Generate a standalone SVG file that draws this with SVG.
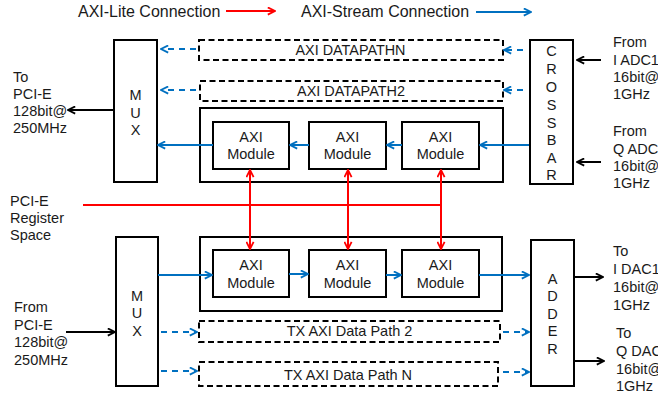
<svg xmlns="http://www.w3.org/2000/svg" width="658" height="398" viewBox="0 0 658 398">
<style>
text{font-family:"Liberation Sans",Arial,sans-serif;fill:#1a1a1a}
.lg{font-size:16px}
.lb{font-size:14.5px}
.ct{text-anchor:middle}
.box{fill:#fff;stroke:#000;stroke-width:2}
.dbox{fill:none;stroke:#000;stroke-width:2;stroke-dasharray:6,3.5}
.blue{stroke:#0070C0;stroke-width:2;fill:none}
.bdash{stroke:#0070C0;stroke-width:2;fill:none;stroke-dasharray:6,5}
.red{stroke:#FF0000;stroke-width:2;fill:none}
.blk{stroke:#000;stroke-width:2;fill:none}
</style>
<defs>
<marker id="hb" viewBox="0 0 10 10" refX="9" refY="5" markerWidth="9" markerHeight="9" markerUnits="userSpaceOnUse" orient="auto-start-reverse"><path d="M1,1 L9,5 L1,9" fill="none" stroke="#0070C0" stroke-width="2"/></marker>
<marker id="hr" viewBox="0 0 10 10" refX="9" refY="5" markerWidth="9" markerHeight="9" markerUnits="userSpaceOnUse" orient="auto-start-reverse"><path d="M1,1 L9,5 L1,9" fill="none" stroke="#FF0000" stroke-width="2"/></marker>
<marker id="hk" viewBox="0 0 10 10" refX="9" refY="5" markerWidth="9" markerHeight="9" markerUnits="userSpaceOnUse" orient="auto-start-reverse"><path d="M1,1 L9,5 L1,9" fill="none" stroke="#000" stroke-width="2"/></marker>
</defs>

<g id="legend">
<text class="lg" x="78" y="17">AXI-Lite Connection</text>
<text class="lg" x="301" y="17">AXI-Stream Connection</text>
<line class="red" x1="226" y1="11" x2="275" y2="11" marker-end="url(#hr)"/>
<line class="blue" x1="476" y1="12" x2="531" y2="12" marker-end="url(#hb)"/>
</g>

<g id="label-to-pcie">
<text class="lb" x="13" y="82">To</text>
<text class="lb" x="13" y="99">PCI-E</text>
<text class="lb" x="13" y="116">128bit@</text>
<text class="lb" x="13" y="133">250MHz</text>
</g>
<g id="label-register">
<text class="lb" x="10" y="206">PCI-E</text>
<text class="lb" x="10" y="223">Register</text>
<text class="lb" x="10" y="240">Space</text>
</g>
<g id="label-from-pcie">
<text class="lb" x="14" y="312">From</text>
<text class="lb" x="14" y="329.5">PCI-E</text>
<text class="lb" x="14" y="347">128bit@</text>
<text class="lb" x="14" y="364.5">250MHz</text>
</g>
<g id="label-iadc">
<text class="lb" x="613" y="47">From</text>
<text class="lb" x="613" y="64.5">I ADC1</text>
<text class="lb" x="613" y="82">16bit@</text>
<text class="lb" x="613" y="99">1GHz</text>
</g>
<g id="label-qadc">
<text class="lb" x="613" y="136">From</text>
<text class="lb" x="613" y="153.5">Q ADC1</text>
<text class="lb" x="613" y="171">16bit@</text>
<text class="lb" x="613" y="188">1GHz</text>
</g>
<g id="label-idac">
<text class="lb" x="613" y="256">To</text>
<text class="lb" x="613" y="274">I DAC1</text>
<text class="lb" x="613" y="292">16bit@</text>
<text class="lb" x="613" y="310">1GHz</text>
</g>
<g id="label-qdac">
<text class="lb" x="616" y="338">To</text>
<text class="lb" x="616" y="356">Q DAC1</text>
<text class="lb" x="616" y="374">16bit@</text>
<text class="lb" x="616" y="391">1GHz</text>
</g>

<g id="mux-top">
<rect class="box" x="114" y="40" width="43" height="142"/>
<text class="lb ct" x="135.5" y="100">M</text>
<text class="lb ct" x="135.5" y="118">U</text>
<text class="lb ct" x="135.5" y="135">X</text>
</g>
<g id="mux-bottom">
<rect class="box" x="116" y="237" width="42" height="149"/>
<text class="lb ct" x="137" y="301">M</text>
<text class="lb ct" x="137" y="318">U</text>
<text class="lb ct" x="137" y="336">X</text>
</g>
<g id="crossbar">
<rect class="box" x="530" y="40" width="43" height="144"/>
<text class="lb ct" x="551.5" y="56">C</text>
<text class="lb ct" x="551.5" y="74">R</text>
<text class="lb ct" x="551.5" y="92">O</text>
<text class="lb ct" x="551.5" y="110">S</text>
<text class="lb ct" x="551.5" y="128">S</text>
<text class="lb ct" x="551.5" y="145">B</text>
<text class="lb ct" x="551.5" y="163">A</text>
<text class="lb ct" x="551.5" y="180">R</text>
</g>
<g id="adder">
<rect class="box" x="531" y="240" width="43" height="146"/>
<text class="lb ct" x="552.5" y="284">A</text>
<text class="lb ct" x="552.5" y="301">D</text>
<text class="lb ct" x="552.5" y="319">D</text>
<text class="lb ct" x="552.5" y="336">E</text>
<text class="lb ct" x="552.5" y="354">R</text>
</g>

<g id="rx-datapathN">
<rect class="dbox" x="199" y="40" width="304" height="20"/>
<text class="lb ct" x="350.5" y="55" textLength="110" lengthAdjust="spacingAndGlyphs">AXI DATAPATHN</text>
</g>
<g id="rx-datapath2">
<rect class="dbox" x="200" y="81" width="303" height="20"/>
<text class="lb ct" x="351" y="96" textLength="108" lengthAdjust="spacingAndGlyphs">AXI DATAPATH2</text>
</g>
<g id="rx-datapath1">
<rect class="box" x="200" y="108" width="303" height="74"/>
</g>
<g id="rx-module1">
<rect class="box" x="213" y="122" width="76" height="47"/>
<text class="lb ct" x="251" y="142">AXI</text>
<text class="lb ct" x="251" y="159">Module</text>
</g>
<g id="rx-module2">
<rect class="box" x="309" y="122" width="77" height="47"/>
<text class="lb ct" x="347.5" y="142">AXI</text>
<text class="lb ct" x="347.5" y="159">Module</text>
</g>
<g id="rx-module3">
<rect class="box" x="402" y="122" width="77" height="47"/>
<text class="lb ct" x="440.5" y="142">AXI</text>
<text class="lb ct" x="440.5" y="159">Module</text>
</g>

<g id="tx-datapath1">
<rect class="box" x="200" y="237" width="302" height="74"/>
</g>
<g id="tx-module1">
<rect class="box" x="213" y="250" width="76" height="47"/>
<text class="lb ct" x="251" y="270">AXI</text>
<text class="lb ct" x="251" y="288">Module</text>
</g>
<g id="tx-module2">
<rect class="box" x="309" y="250" width="77" height="47"/>
<text class="lb ct" x="347.5" y="270">AXI</text>
<text class="lb ct" x="347.5" y="288">Module</text>
</g>
<g id="tx-module3">
<rect class="box" x="402" y="250" width="77" height="47"/>
<text class="lb ct" x="440.5" y="270">AXI</text>
<text class="lb ct" x="440.5" y="288">Module</text>
</g>
<g id="tx-datapath2">
<rect class="dbox" x="199" y="321" width="301" height="21"/>
<text class="lb ct" x="349.5" y="336">TX AXI Data Path 2</text>
</g>
<g id="tx-datapathN">
<rect class="dbox" x="199" y="362" width="299" height="24"/>
<text class="lb ct" x="348" y="380">TX AXI Data Path N</text>
</g>

<g id="connectors">
<!-- RX stream -->
<line class="blue" x1="529" y1="145" x2="480" y2="145" marker-end="url(#hb)"/>
<line class="blue" x1="402" y1="145" x2="387" y2="145" marker-end="url(#hb)"/>
<line class="blue" x1="309" y1="145" x2="290" y2="145" marker-end="url(#hb)"/>
<line class="blue" x1="213" y1="145" x2="158" y2="145" marker-end="url(#hb)"/>
<line class="bdash" x1="196" y1="49" x2="161" y2="49" marker-end="url(#hb)"/>
<line class="bdash" x1="196" y1="90" x2="161" y2="90" marker-end="url(#hb)"/>
<line class="bdash" x1="523" y1="50" x2="504" y2="50" marker-end="url(#hb)"/>
<line class="bdash" x1="523" y1="90" x2="504" y2="90" marker-end="url(#hb)"/>
<line class="blk" x1="114" y1="110" x2="68" y2="110" marker-end="url(#hk)"/>
<line class="blk" x1="601" y1="60" x2="577" y2="60" marker-end="url(#hk)"/>
<line class="blk" x1="601" y1="162" x2="577" y2="162" marker-end="url(#hk)"/>
<!-- AXI-Lite -->
<line class="red" x1="83" y1="205" x2="442" y2="205"/>
<line class="red" x1="250" y1="170" x2="250" y2="249" marker-start="url(#hr)" marker-end="url(#hr)"/>
<line class="red" x1="348" y1="170" x2="348" y2="249" marker-start="url(#hr)" marker-end="url(#hr)"/>
<line class="red" x1="441" y1="170" x2="441" y2="249" marker-start="url(#hr)" marker-end="url(#hr)"/>
<!-- TX stream -->
<line class="blue" x1="158" y1="275" x2="212" y2="275" marker-end="url(#hb)"/>
<line class="blue" x1="289" y1="274" x2="308" y2="274" marker-end="url(#hb)"/>
<line class="blue" x1="386" y1="275" x2="401" y2="275" marker-end="url(#hb)"/>
<line class="blue" x1="479" y1="275" x2="529" y2="275" marker-end="url(#hb)"/>
<line class="bdash" x1="161" y1="332" x2="197" y2="332" marker-end="url(#hb)"/>
<line class="bdash" x1="161" y1="371" x2="197" y2="371" marker-end="url(#hb)"/>
<line class="bdash" x1="503" y1="332" x2="529" y2="332" marker-end="url(#hb)"/>
<line class="bdash" x1="503" y1="372" x2="529" y2="372" marker-end="url(#hb)"/>
<line class="blk" x1="66" y1="332" x2="115" y2="332" marker-end="url(#hk)"/>
<line class="blk" x1="574" y1="277" x2="603" y2="277" marker-end="url(#hk)"/>
<line class="blk" x1="574" y1="361" x2="604" y2="361" marker-end="url(#hk)"/>
</g>
</svg>
